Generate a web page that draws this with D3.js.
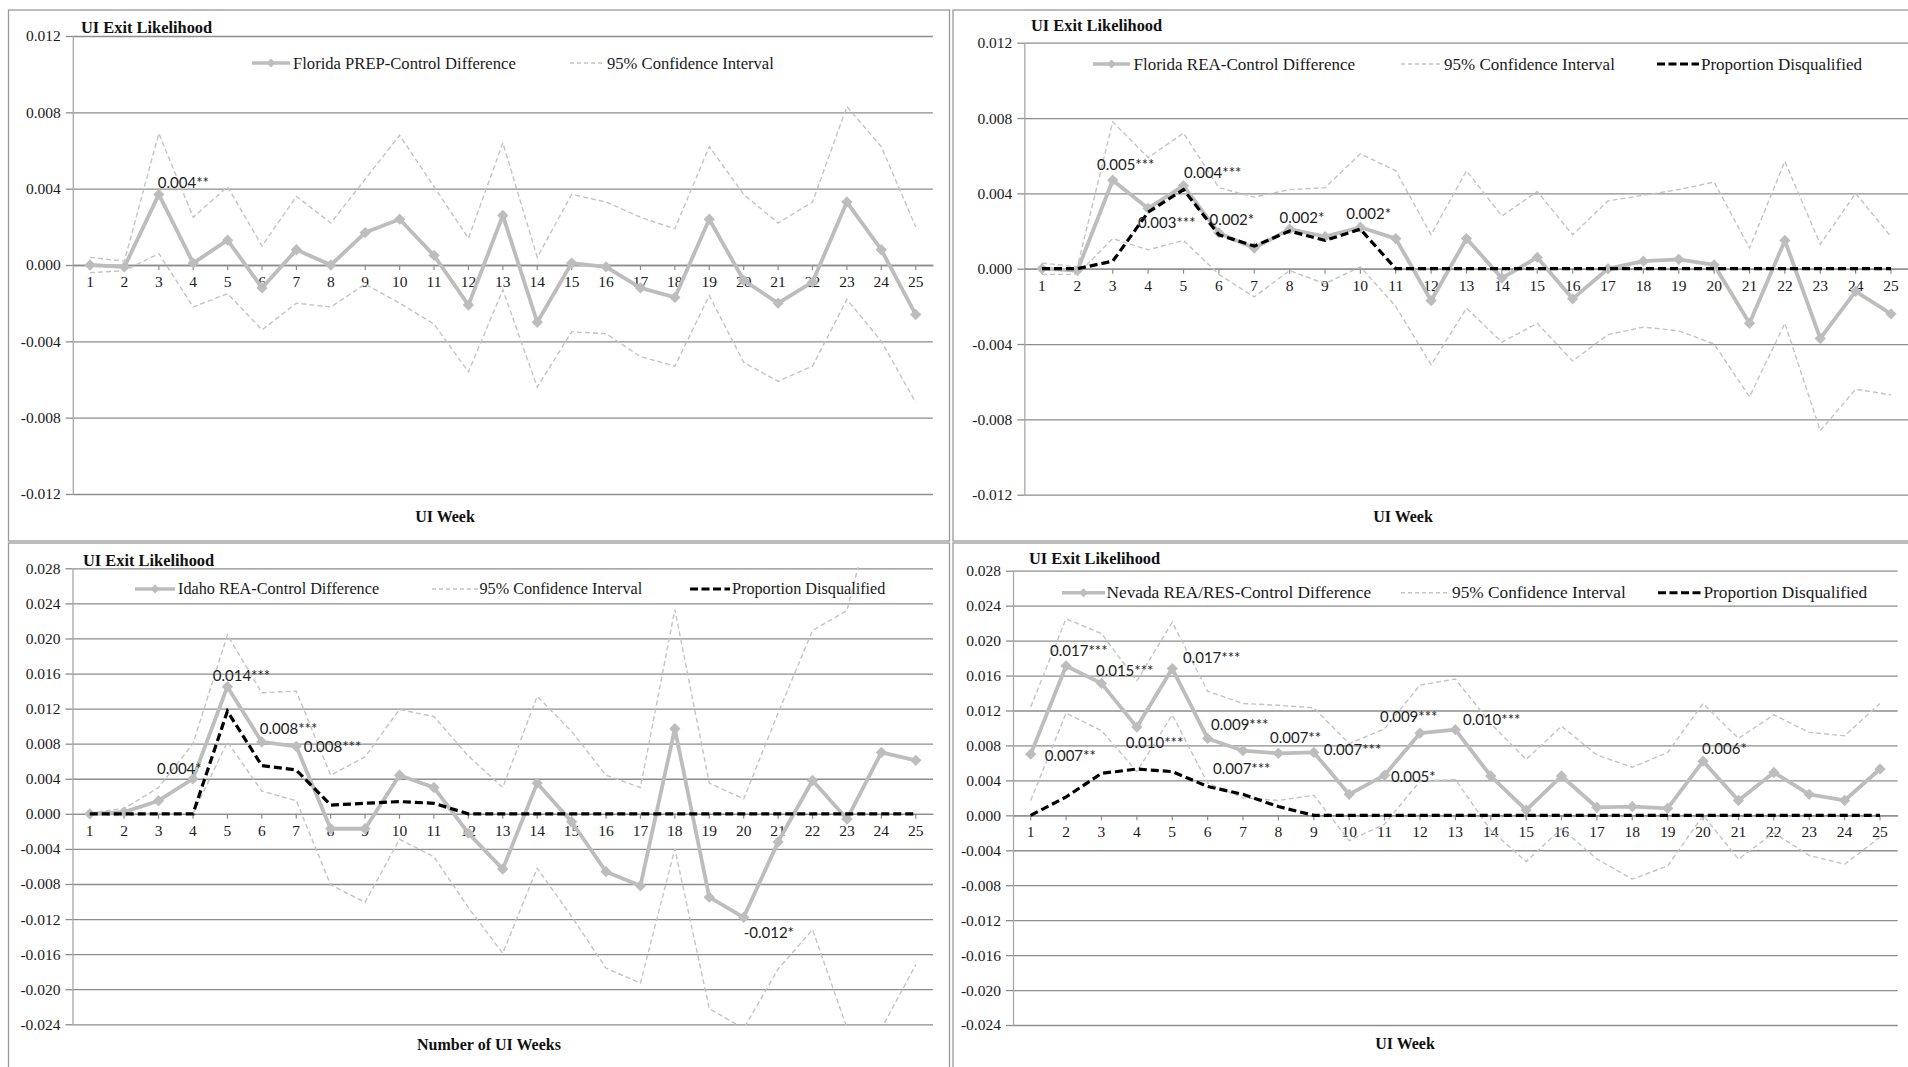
<!DOCTYPE html>
<html><head><meta charset="utf-8">
<script src="https://cdn.jsdelivr.net/npm/d3@7"></script>
<style>
html,body{margin:0;padding:0;background:#fff;}
svg{display:block;}
</style></head><body>
<svg id="chart" width="1908" height="1067"></svg>
<script>
// ---------------- DATA ----------------
const weeks = [1,2,3,4,5,6,7,8,9,10,11,12,13,14,15,16,17,18,19,20,21,22,23,24,25];

const yTicksNarrow = [-0.012,-0.008,-0.004,0,0.004,0.008,0.012];
const yTicksWide = [-0.024,-0.020,-0.016,-0.012,-0.008,-0.004,0,0.004,0.008,0.012,0.016,0.020,0.024,0.028];

// Panel 1: Florida PREP
const flPrepDiff  = [0.0000,-0.0001,0.0037,0.0001,0.0013,-0.0012,0.0008,0.0000,0.0017,0.0024,0.0005,-0.0021,0.0026,-0.0030,0.0001,-0.0001,-0.0012,-0.0017,0.0024,-0.0008,-0.0020,-0.0009,0.0033,0.0008,-0.0026];
const flPrepUpper = [0.0004,0.0002,0.0069,0.0025,0.0041,0.0010,0.0036,0.0022,0.0045,0.0068,0.0041,0.0014,0.0064,0.0004,0.0037,0.0033,0.0025,0.0019,0.0062,0.0037,0.0022,0.0033,0.0083,0.0062,0.0020];
const flPrepLower = [-0.0004,-0.0003,0.0006,-0.0022,-0.0015,-0.0034,-0.0020,-0.0022,-0.0010,-0.0020,-0.0031,-0.0056,-0.0013,-0.0064,-0.0035,-0.0036,-0.0048,-0.0053,-0.0016,-0.0051,-0.0061,-0.0053,-0.0018,-0.0040,-0.0072];
const flPrepNotes = [{week:3, series:"diff", text:"0.004**"}];

// Panel 2: Florida REA
const flReaDiff  = [0.0000,-0.0001,0.0047,0.0032,0.0044,0.0019,0.0011,0.0021,0.0017,0.0022,0.0016,-0.0017,0.0016,-0.0005,0.0006,-0.0016,0.0000,0.0004,0.0005,0.0002,-0.0029,0.0015,-0.0037,-0.0012,-0.0024];
const flReaUpper = [0.0003,0.0001,0.0078,0.0059,0.0072,0.0043,0.0038,0.0042,0.0043,0.0061,0.0052,0.0018,0.0052,0.0028,0.0041,0.0018,0.0036,0.0039,0.0042,0.0046,0.0011,0.0057,0.0013,0.0040,0.0017];
const flReaLower = [-0.0003,-0.0003,0.0016,0.0010,0.0015,-0.0003,-0.0015,-0.0001,-0.0008,0.0001,-0.0020,-0.0051,-0.0021,-0.0039,-0.0029,-0.0049,-0.0035,-0.0031,-0.0033,-0.0040,-0.0068,-0.0029,-0.0086,-0.0064,-0.0067];
const flReaDisq  = [0,0,0.0004,0.0030,0.0042,0.0018,0.0012,0.0020,0.0015,0.0021,0,0,0,0,0,0,0,0,0,0,0,0,0,0,0];
const flReaNotes = [
  {week:3, series:"diff", text:"0.005***"},
  {week:5, series:"diff", text:"0.004***"},
  {week:4, series:"disq", text:"0.003***"},
  {week:6, series:"diff", text:"0.002*"},
  {week:8, series:"diff", text:"0.002*"},
  {week:10, series:"diff", text:"0.002*"}
];

// Panel 3: Idaho REA
const idReaDiff  = [0.0000,0.0002,0.0015,0.0040,0.0145,0.0082,0.0077,-0.0017,-0.0017,0.0044,0.0030,-0.0022,-0.0063,0.0035,-0.0009,-0.0066,-0.0082,0.0097,-0.0095,-0.0118,-0.0032,0.0038,-0.0006,0.0070,0.0061];
const idReaUpper = [0.0001,0.0006,0.0030,0.0080,0.0204,0.0138,0.0140,0.0044,0.0065,0.0119,0.0111,0.0066,0.0030,0.0134,0.0094,0.0044,0.0030,0.0233,0.0035,0.0017,0.0115,0.0209,0.0232,0.0385,0.0294];
const idReaLower = [-0.0001,-0.0002,0.0000,0.0000,0.0082,0.0026,0.0015,-0.0081,-0.0101,-0.0029,-0.0049,-0.0107,-0.0159,-0.0062,-0.0117,-0.0176,-0.0193,-0.0040,-0.0222,-0.0245,-0.0177,-0.0132,-0.0244,-0.0245,-0.0172];
const idReaDisq  = [0,0,0,0,0.0117,0.0055,0.0050,0.0010,0.0012,0.0014,0.0012,0,0,0,0,0,0,0,0,0,0,0,0,0,0];
const idReaNotes = [
  {week:4, series:"diff", text:"0.004*"},
  {week:5, series:"diff", text:"0.014***"},
  {week:6, series:"diff", text:"0.008***"},
  {week:7, series:"diff", text:"0.008***"},
  {week:20, series:"diff", text:"-0.012*"}
];

// Panel 4: Nevada REA/RES
const nvReaDiff  = [0.0070,0.0171,0.0151,0.0101,0.0168,0.0088,0.0074,0.0071,0.0072,0.0024,0.0046,0.0094,0.0098,0.0045,0.0006,0.0045,0.0009,0.0010,0.0008,0.0062,0.0017,0.0049,0.0024,0.0017,0.0053];
const nvReaUpper = [0.0124,0.0225,0.0208,0.0154,0.0221,0.0142,0.0128,0.0126,0.0123,0.0082,0.0099,0.0149,0.0156,0.0105,0.0064,0.0102,0.0069,0.0055,0.0072,0.0128,0.0088,0.0115,0.0095,0.0091,0.0128];
const nvReaLower = [0.0017,0.0117,0.0097,0.0050,0.0115,0.0037,0.0020,0.0017,0.0023,-0.0029,-0.0010,0.0039,0.0041,-0.0017,-0.0053,-0.0015,-0.0050,-0.0073,-0.0058,0.0000,-0.0050,-0.0020,-0.0046,-0.0056,-0.0025];
const nvReaDisq  = [0.0000,0.0021,0.0048,0.0053,0.0050,0.0033,0.0024,0.0010,0,0,0,0,0,0,0,0,0,0,0,0,0,0,0,0,0];
const nvReaNotes = [
  {week:2, series:"diff", text:"0.017***"},
  {week:3, series:"diff", text:"0.015***"},
  {week:5, series:"diff", text:"0.017***"},
  {week:1, series:"diff", text:"0.007**"},
  {week:4, series:"diff", text:"0.010***"},
  {week:6, series:"diff", text:"0.009***"},
  {week:8, series:"diff", text:"0.007**"},
  {week:7, series:"diff", text:"0.007***"},
  {week:9, series:"diff", text:"0.007***"},
  {week:12, series:"diff", text:"0.009***"},
  {week:11, series:"diff", text:"0.005*"},
  {week:13, series:"diff", text:"0.010***"},
  {week:20, series:"diff", text:"0.006*"}
];

const yTitle = "UI Exit Likelihood";
const ciLabel = "95% Confidence Interval";
const disqLabel = "Proportion Disqualified";

// ---------------- LAYOUT (positions / styles) ----------------
const layouts = [
  { box:[8.5,10,941,531], x0:72.8, x1:932.9, yTop:36, yBot:494, domain:[-0.012,0.012], ticks:yTicksNarrow,
    titleXY:[81,27], legendY:63, legendFont:16.6,
    leg:[[252,290,293],[570,604,607]],
    xTitle:"UI Week", xTitleXY:[445,516],
    noteOffsets:[[-1,-12]] },
  { box:[953,10,970,531], x0:1024.3, x1:1908.7, yTop:42.7, yBot:494.7, domain:[-0.012,0.012], ticks:yTicksNarrow,
    titleXY:[1031,25.5], legendY:64, legendFont:17,
    leg:[[1093,1130,1133.5],[1401,1441,1444],[1657,1699,1701]],
    xTitle:"UI Week", xTitleXY:[1403,516],
    noteOffsets:[[-15.7,-16],[0.5,-14],[-10,9.5],[-9.4,-14],[-10,-12.5],[-14,-14]] },
  { box:[8.5,543,941,530], x0:72.5, x1:933, yTop:568.3, yBot:1024.3, domain:[-0.024,0.028], ticks:yTicksWide,
    titleXY:[83,560], legendY:589, legendFont:16.2,
    leg:[[135,175,178],[432,478,479.5],[690,730,732]],
    xTitle:"Number of UI Weeks", xTitleXY:[489,1044],
    noteOffsets:[[-36,-11],[-14.6,-11.7],[-2,-14],[7.6,0],[0,15]] },
  { box:[953,543,970,530], x0:1013, x1:1897.7, yTop:570.7, yBot:1025, domain:[-0.024,0.028], ticks:yTicksWide,
    titleXY:[1029,558.5], legendY:592.7, legendFont:17.3,
    leg:[[1062,1105,1106.5],[1401,1450,1452],[1658,1702,1703.5]],
    xTitle:"UI Week", xTitleXY:[1405,1043],
    noteOffsets:[[-16,-16],[-5.5,-13.4],[10.7,-11.5],[14,1],[-11,15],[3.4,-14.4],[-8.4,-16.3],[-30,17.4],[10,-3.4],[-40,-17],[6.4,1],[7.6,-10.7],[-1,-13]] }
];

const panelData = [
  { name:"Florida PREP-Control Difference", diff:flPrepDiff, upper:flPrepUpper, lower:flPrepLower, disq:null, notes:flPrepNotes },
  { name:"Florida REA-Control Difference", diff:flReaDiff, upper:flReaUpper, lower:flReaLower, disq:flReaDisq, notes:flReaNotes },
  { name:"Idaho REA-Control Difference", diff:idReaDiff, upper:idReaUpper, lower:idReaLower, disq:idReaDisq, notes:idReaNotes },
  { name:"Nevada REA/RES-Control Difference", diff:nvReaDiff, upper:nvReaUpper, lower:nvReaLower, disq:nvReaDisq, notes:nvReaNotes }
];

// ---------------- DRAW ----------------
const SERIF = "'Liberation Serif','Times New Roman',serif";
const SANS = "Lato,'Open Sans',sans-serif";
const MAIN_C = "#bdbdbd", CI_C = "#c4c4c4", GRID_C = "#8d8d8d";
const fmt = d3.formatLocale({decimal:".", thousands:",", grouping:[3], currency:["$",""], minus:"-"}).format(".3f");
const svg = d3.select("#chart");
svg.append("rect").attr("width",1908).attr("height",1067).attr("fill","#fff");

layouts.forEach((L, pi) => {
  const P = panelData[pi];
  const g = svg.append("g");
  g.append("rect").attr("x",L.box[0]).attr("y",L.box[1]).attr("width",L.box[2]).attr("height",L.box[3])
    .attr("fill","none").attr("stroke","#9a9a9a").attr("stroke-width",1.3);

  const x = d3.scaleBand().domain(weeks).range([L.x0, L.x1]).padding(0);
  const cx = w => x(w) + x.bandwidth()/2;
  const y = d3.scaleLinear().domain(L.domain).range([L.yBot, L.yTop]);

  // gridlines
  g.append("g").attr("transform",`translate(${L.x0},0)`)
    .call(d3.axisLeft(y).tickValues(L.ticks).tickSize(-(L.x1-L.x0)).tickFormat(""))
    .call(s => s.select(".domain").remove())
    .call(s => s.selectAll("line").attr("stroke",GRID_C).attr("stroke-width",1.3));

  // y axis
  g.append("g").attr("transform",`translate(${L.x0},0)`)
    .call(d3.axisLeft(y).tickValues(L.ticks).tickSize(7).tickSizeOuter(0).tickPadding(5).tickFormat(fmt))
    .call(s => s.select(".domain").attr("stroke","#a8a8a8").attr("stroke-width",1.3))
    .call(s => s.selectAll(".tick line").attr("stroke",GRID_C).attr("stroke-width",1.3))
    .call(s => s.selectAll("text").attr("font-family",SERIF).attr("font-size",15.5).attr("fill","#1a1a1a"));

  // x axis at zero
  g.append("g").attr("transform",`translate(0,${y(0)})`)
    .call(d3.axisBottom(x).tickSize(5).tickSizeOuter(0).tickPadding(6))
    .call(s => s.select(".domain").attr("stroke",GRID_C).attr("stroke-width",1.3))
    .call(s => s.selectAll(".tick line").attr("stroke",GRID_C).attr("stroke-width",1.2))
    .call(s => s.selectAll("text").attr("font-family",SERIF).attr("font-size",15.5).attr("fill","#1a1a1a"));

  // clip
  const clipId = "clip" + pi;
  svg.append("clipPath").attr("id",clipId).append("rect")
    .attr("x",L.x0).attr("y",L.yTop-1).attr("width",L.x1-L.x0).attr("height",L.yBot-L.yTop+2);
  const plot = g.append("g").attr("clip-path",`url(#${clipId})`);

  const line = d3.line().x((d,i) => cx(weeks[i])).y(d => y(d));

  // main series
  plot.append("path").attr("d",line(P.diff)).attr("fill","none").attr("stroke",MAIN_C)
    .attr("stroke-width",3.8).attr("stroke-linejoin","round");
  plot.selectAll(".mk").data(P.diff).enter().append("path")
    .attr("d",d3.symbol().type(d3.symbolSquare).size(64))
    .attr("transform",(d,i) => `translate(${cx(weeks[i])},${y(d)}) rotate(45)`)
    .attr("fill",MAIN_C);

  // CI
  [P.upper, P.lower].forEach(arr => {
    plot.append("path").attr("d",line(arr)).attr("fill","none").attr("stroke",CI_C)
      .attr("stroke-width",1.4).attr("stroke-dasharray","5,3");
  });

  // disqualified
  if (P.disq) {
    plot.append("path").attr("d",line(P.disq)).attr("fill","none").attr("stroke","#000")
      .attr("stroke-width",3.2).attr("stroke-dasharray","8,4");
  }

  // annotations
  P.notes.forEach((n, k) => {
    const arr = n.series === "disq" ? P.disq : P.diff;
    const v = arr[weeks.indexOf(n.week)];
    const off = L.noteOffsets[k];
    g.append("text").attr("x",cx(n.week)+off[0]).attr("y",y(v)+off[1])
      .attr("dominant-baseline","central").attr("font-family",SANS).attr("font-size",15)
      .attr("fill","#222").text(n.text);
  });

  // titles
  g.append("text").attr("x",L.titleXY[0]).attr("y",L.titleXY[1]).attr("dominant-baseline","central")
    .attr("font-family",SERIF).attr("font-weight","bold").attr("font-size",16.4).attr("fill","#111").text(yTitle);
  g.append("text").attr("x",L.xTitleXY[0]).attr("y",L.xTitleXY[1]).attr("dominant-baseline","central")
    .attr("text-anchor","middle").attr("font-family",SERIF).attr("font-weight","bold").attr("font-size",16)
    .attr("fill","#111").text(L.xTitle);

  // legend
  const ly = L.legendY;
  const items = [{label:P.name, type:"main"},{label:ciLabel, type:"ci"}];
  if (P.disq) items.push({label:disqLabel, type:"disq"});
  items.forEach((it, k) => {
    const [s0, s1, tx] = L.leg[k];
    if (it.type === "main") {
      g.append("line").attr("x1",s0).attr("x2",s1).attr("y1",ly).attr("y2",ly)
        .attr("stroke",MAIN_C).attr("stroke-width",3.5);
      g.append("path").attr("d",d3.symbol().type(d3.symbolSquare).size(40))
        .attr("transform",`translate(${(s0+s1)/2},${ly}) rotate(45)`).attr("fill",MAIN_C);
    } else if (it.type === "ci") {
      g.append("line").attr("x1",s0).attr("x2",s1).attr("y1",ly).attr("y2",ly)
        .attr("stroke",CI_C).attr("stroke-width",1.4).attr("stroke-dasharray","4,3");
    } else {
      g.append("line").attr("x1",s0).attr("x2",s1).attr("y1",ly).attr("y2",ly)
        .attr("stroke","#000").attr("stroke-width",3).attr("stroke-dasharray","8,3.5");
    }
    g.append("text").attr("x",tx).attr("y",ly).attr("dominant-baseline","central")
      .attr("font-family",SERIF).attr("font-size",L.legendFont).attr("fill","#1a1a1a").text(it.label);
  });
});
</script>
</body></html>
